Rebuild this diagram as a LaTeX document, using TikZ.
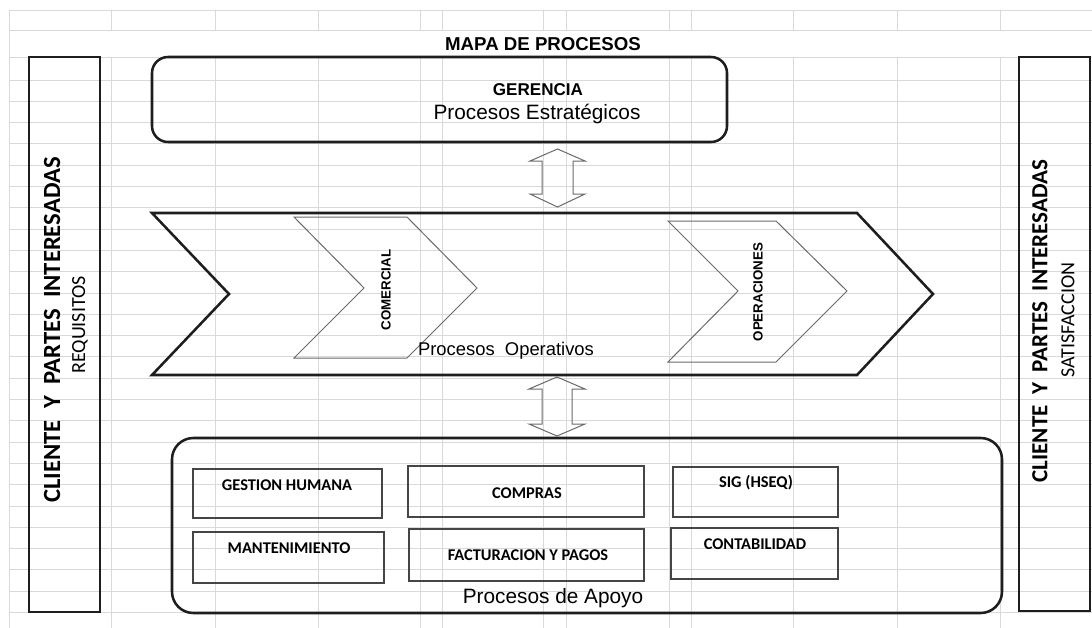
\documentclass[tikz,border=0pt]{standalone}
\usepackage{fontspec}
\setmainfont{Liberation Sans}
\newfontfamily\calfont{Carlito}
\definecolor{gridgray}{HTML}{D9D9D9}
\definecolor{heavyc}{HTML}{1E1E1E}
\definecolor{thinc}{HTML}{6A6A6A}
\definecolor{boxc}{HTML}{454545}
\begin{document}
\begin{tikzpicture}[x=0.75pt,y=-0.75pt,
  gridline/.style={draw=gridgray, line width=0.75pt},
  heavy/.style={draw=heavyc, line width=1.9pt, line join=miter},
  thinchev/.style={draw=thinc, line width=0.75pt, line join=miter},
  arrowshape/.style={draw=thinc, line width=0.75pt},
  subbox/.style={draw=boxc, line width=1.1pt},
  sidebold/.style={rotate=90, font=\calfont\bfseries\fontsize{18.5}{20}\selectfont, inner sep=0pt},
  sidereg/.style={rotate=90, font=\calfont\fontsize{15}{17}\selectfont, inner sep=0pt},
  chevtext/.style={rotate=90, font=\bfseries\fontsize{10}{12}\selectfont, inner sep=0pt},
  labeltext/.style={font=\fontsize{15.6}{18}\selectfont, inner sep=0pt},
  subtext/.style={font=\calfont\bfseries\fontsize{12.3}{14}\selectfont, inner sep=0pt}
]
\useasboundingbox[fill=white] (0,0) rectangle (1092,628);
% spreadsheet grid
\foreach \yy in {10,30,57} \draw[gridline] (9.5,\yy) -- (1092,\yy);
\foreach \k in {0,...,25} \draw[gridline] (9.5,{80+21.3*\k}) -- (1092,{80+21.3*\k});
\draw[gridline] (9.5,10) -- (9.5,628);
\foreach \xx in {111,215,318,420,442,543,566,669,691,793,897,1000} {
  \draw[gridline] (\xx,10) -- (\xx,30);
  \draw[gridline] (\xx,57) -- (\xx,628);
}
% title
\node[font=\bfseries\fontsize{14}{16}\selectfont, inner sep=0pt] (title) at (543,44) {MAPA DE PROCESOS};
% side boxes
\draw[heavy] (29,57) rectangle (100,612);
\node[sidebold] (lcli) at (52,330) {CLIENTE\ \ Y\ \ PARTES\ \ INTERESADAS};
\node[sidereg] (lreq) at (80,325) {REQUISITOS};
\draw[heavy] (1019,57) rectangle (1090,611);
\node[sidebold, font=\calfont\bfseries\fontsize{17.3}{19}\selectfont] (rcli) at (1040,321) {CLIENTE\ \ Y\ \ PARTES\ \ INTERESADAS};
\node[sidereg] (rsat) at (1068,320) {SATISFACCION};
% gerencia
\draw[heavy, rounded corners=12] (152,57) rectangle (727,142);
\node[font=\bfseries\fontsize{12.8}{14}\selectfont, inner sep=0pt] (ger) at (538,90) {GERENCIA};
\node[labeltext] (est) at (537,114) {Procesos Estratégicos};
% double arrows
\draw[arrowshape] (557.5,149) -- (585,161) -- (573,161) -- (573,194) -- (585,194) -- (557.5,207)
  -- (530,194) -- (542,194) -- (542,161) -- (530,161) -- cycle;
\draw[arrowshape] (557,377) -- (585,389) -- (572,389) -- (572,424) -- (585,424) -- (557,436)
  -- (529,424) -- (542,424) -- (542,389) -- (529,389) -- cycle;
% operative chevron
\draw[heavy] (152,213) -- (857,213) -- (933,294) -- (857,375) -- (152,375) -- (229,294) -- cycle;
\draw[thinchev] (294,217) -- (407,217) -- (477,288) -- (407,358) -- (294,358) -- (364,288) -- cycle;
\node[chevtext] (com) at (386,290) {COMERCIAL};
\draw[thinchev] (668,221) -- (776,221) -- (847,291) -- (776,362) -- (668,362) -- (738,291) -- cycle;
\node[chevtext] (ope) at (758,292) {OPERACIONES};
\node[font=\fontsize{13.8}{16}\selectfont, inner sep=0pt] (opl) at (506,351) {Procesos\ \ Operativos};
% support
\draw[heavy, rounded corners=16] (172,438) rectangle (1002,613);
\draw[subbox] (193,469) rectangle (382,518);
\node[subtext] (gh) at (287,485) {GESTION HUMANA};
\draw[subbox] (193,532) rectangle (384,583);
\node[subtext] (mt) at (289,548) {MANTENIMIENTO};
\draw[subbox] (408,466) rectangle (644,517);
\node[subtext] (cp) at (527,493) {COMPRAS};
\draw[subbox] (409,529) rectangle (644,581);
\node[subtext] (fp) at (528,555) {FACTURACION Y PAGOS};
\draw[subbox] (673,467) rectangle (838,517);
\node[subtext] (sig) at (756,483) {SIG (HSEQ)};
\draw[subbox] (671,528) rectangle (838,579);
\node[subtext] (cont) at (755,544) {CONTABILIDAD};
\node[labeltext] (apo) at (553,598) {Procesos de Apoyo};
\end{tikzpicture}
\end{document}
